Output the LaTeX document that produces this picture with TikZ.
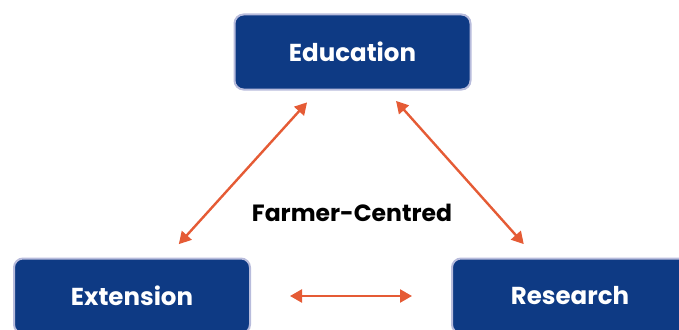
\documentclass[tikz,border=0pt]{standalone}
\usepackage{fontspec}
\setmainfont{Poppins}
\usetikzlibrary{arrows.meta}
\definecolor{boxfill}{HTML}{0E3A84}
\definecolor{boxline}{HTML}{B8BCDC}
\definecolor{arr}{HTML}{E55B35}
\tikzset{
  box/.style={draw=boxline, line width=2pt, fill=boxfill, rounded corners=9pt,
    minimum width=236pt, minimum height=75pt, text=white,
    font=\fontsize{24.5}{27}\selectfont\bfseries, inner sep=0pt},
  link/.style={draw=arr, line width=2.4pt, {Triangle[length=12pt,width=13pt]}-{Triangle[length=12pt,width=13pt]}},
}
\begin{document}
\begin{tikzpicture}[x=1pt,y=-1pt]
\useasboundingbox (0,0) rectangle (679,329);
\node[box] (edu) at (352.5,52) {Education};
\node[box] (ext) at (132,296) {Extension};
\node[box] (res) at (570,296) {Research};
\node[font=\fontsize{23.5}{26}\selectfont\bfseries] (fc) at (352,213) {Farmer-Centred};
\draw[link, shorten <=16pt, shorten >=18pt] (edu) -- (ext);
\draw[link, shorten <=14pt, shorten >=18pt] (edu) -- (res);
\draw[link, shorten <=39pt, shorten >=39pt] (ext) -- (res);
\end{tikzpicture}
\end{document}
